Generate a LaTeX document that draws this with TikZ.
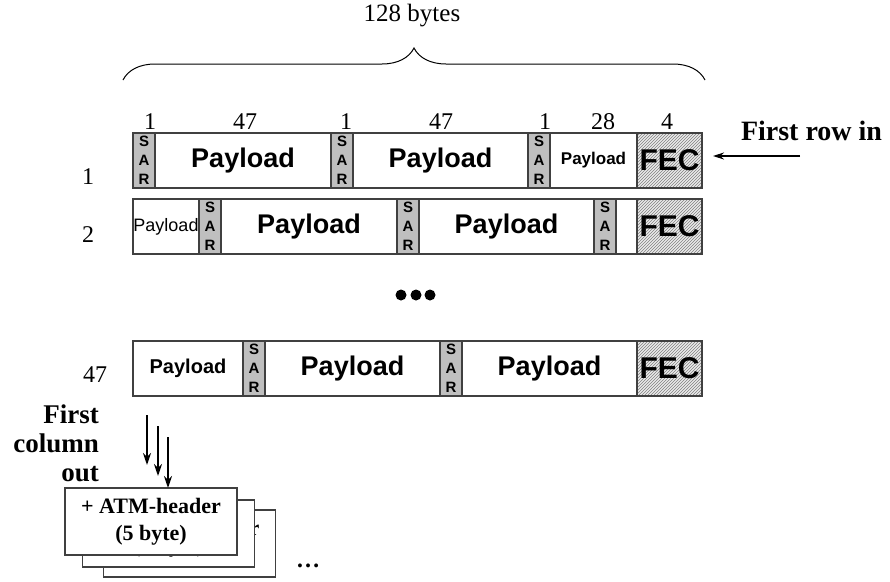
\documentclass[tikz,border=0pt]{standalone}
\usepackage{fontspec}
\setmainfont{Liberation Serif}
\newfontfamily\arial{Liberation Sans}
\usetikzlibrary{positioning,arrows.meta,patterns,decorations.pathreplacing}

\begin{document}
\begin{tikzpicture}[x=1pt,y=-1pt,
slot/.style={draw=black!75,line width=1.2pt,minimum height=55pt,inner sep=0pt,outer sep=0pt,align=center},
sar/.style={slot,fill=black!25,minimum width=22pt,font=\arial\bfseries\fontsize{15}{19}\selectfont},
pay/.style={slot,fill=white,font=\arial\bfseries\fontsize{27}{27}\selectfont},
smallpay/.style={pay,font=\arial\bfseries\fontsize{17}{17}\selectfont},
fec/.style={slot,minimum width=65pt,preaction={fill=black!8},pattern=north east lines,pattern color=black!50,font=\arial\bfseries\fontsize{30}{30}\selectfont},
num/.style={font=\fontsize{24}{24}\selectfont,inner sep=0pt},
atm/.style={draw=black!75,line width=1.2pt,fill=white,minimum width=172pt,minimum height=67pt,align=center,font=\bfseries\fontsize{22}{27}\selectfont},
colarrow/.style={line width=2pt,-{Stealth[length=12pt,width=8pt]}}]
\useasboundingbox (0,0) rectangle (890,581);

% size of a row
\draw[decorate,decoration={brace,amplitude=32pt},line width=1pt] (123,80) coordinate (bl) -- (705,80) coordinate (br);
\node[num,font=\fontsize{25}{25}\selectfont] (total) at (412,16) {128 bytes};

% row 1
\node[sar,anchor=west] (r1s1) at (133,160.5) {S\\A\\R};
\node[pay,minimum width=176pt,right=0pt of r1s1] (r1p1) {Payload};
\node[sar,right=0pt of r1p1] (r1s2) {S\\A\\R};
\node[pay,minimum width=175pt,right=0pt of r1s2] (r1p2) {Payload};
\node[sar,right=0pt of r1p2] (r1s3) {S\\A\\R};
\node[smallpay,minimum width=87pt,right=0pt of r1s3] (r1p3) {Payload};
\node[fec,right=0pt of r1p3] (r1f) {FEC};

% byte counts
\node[num] (n1) at (150,122) {1};
\node[num] (n2) at (245,122) {47};
\node[num] (n3) at (346,122) {1};
\node[num] (n4) at (441,122) {47};
\node[num] (n5) at (545,122) {1};
\node[num] (n6) at (603,122) {28};
\node[num] (n7) at (667,122) {4};

% row 2
\node[pay,minimum width=66pt,anchor=west,font=\arial\fontsize{18}{18}\selectfont] (r2p0) at (133,226.5) {Payload};
\node[sar,right=0pt of r2p0] (r2s1) {S\\A\\R};
\node[pay,minimum width=176pt,right=0pt of r2s1] (r2p1) {Payload};
\node[sar,right=0pt of r2p1] (r2s2) {S\\A\\R};
\node[pay,minimum width=175pt,right=0pt of r2s2] (r2p2) {Payload};
\node[sar,right=0pt of r2p2] (r2s3) {S\\A\\R};
\node[pay,minimum width=21pt,right=0pt of r2s3] (r2e) {};
\node[fec,right=0pt of r2e] (r2f) {FEC};

% row 47
\node[pay,minimum width=110pt,anchor=west,font=\arial\bfseries\fontsize{20}{20}\selectfont] (r3p0) at (133,368.5) {Payload};
\node[sar,right=0pt of r3p0] (r3s1) {S\\A\\R};
\node[pay,minimum width=175pt,right=0pt of r3s1] (r3p1) {Payload};
\node[sar,right=0pt of r3p1] (r3s2) {S\\A\\R};
\node[pay,minimum width=175pt,right=0pt of r3s2] (r3p2) {Payload};
\node[fec,right=0pt of r3p2] (r3f) {FEC};

% row numbers
\node[num] (row1) at (88,177) {1};
\node[num] (row2) at (88,235) {2};
\node[num] (row3) at (95,375) {47};

% rows left out
\fill (401,295) circle (5.5pt) (416,295) circle (5.5pt) (430,295) circle (5.5pt);

% input
\node[font=\bfseries\fontsize{28}{28}\selectfont,inner sep=0pt] (rowin) at (811.5,131) {First row in};
\coordinate (inarrow) at (800,156);
\draw[line width=1.2pt,-{Stealth[length=11pt,width=7pt]},shorten >=11pt] (inarrow) -- (inarrow -| r1f.east);

% output
\node[anchor=east,align=right,inner sep=0pt,font=\bfseries\fontsize{27}{29}\selectfont] (colout) at (99,443) {First\\column\\out};
\node[atm] (atm3) at (189.5,543.5) {+ ATM-header\\(5 byte)};
\node[atm] (atm2) at (168.5,533.5) {+ ATM-header\\(5 byte)};
\node[atm] (atm1) at (151,521.5) {+ ATM-header\\(5 byte)};
\foreach \i/\x/\t/\b in {1/147/415/465,2/158/426/476,3/168/437/488}{
\coordinate (col\i a) at (\x,\t);
\coordinate (col\i b) at (\x,\b);
\draw[colarrow] (col\i a) -- (col\i b);
}
\node[font=\bfseries\fontsize{24}{24}\selectfont] (more) at (308,566) {\ldots};
\end{tikzpicture}
\end{document}
